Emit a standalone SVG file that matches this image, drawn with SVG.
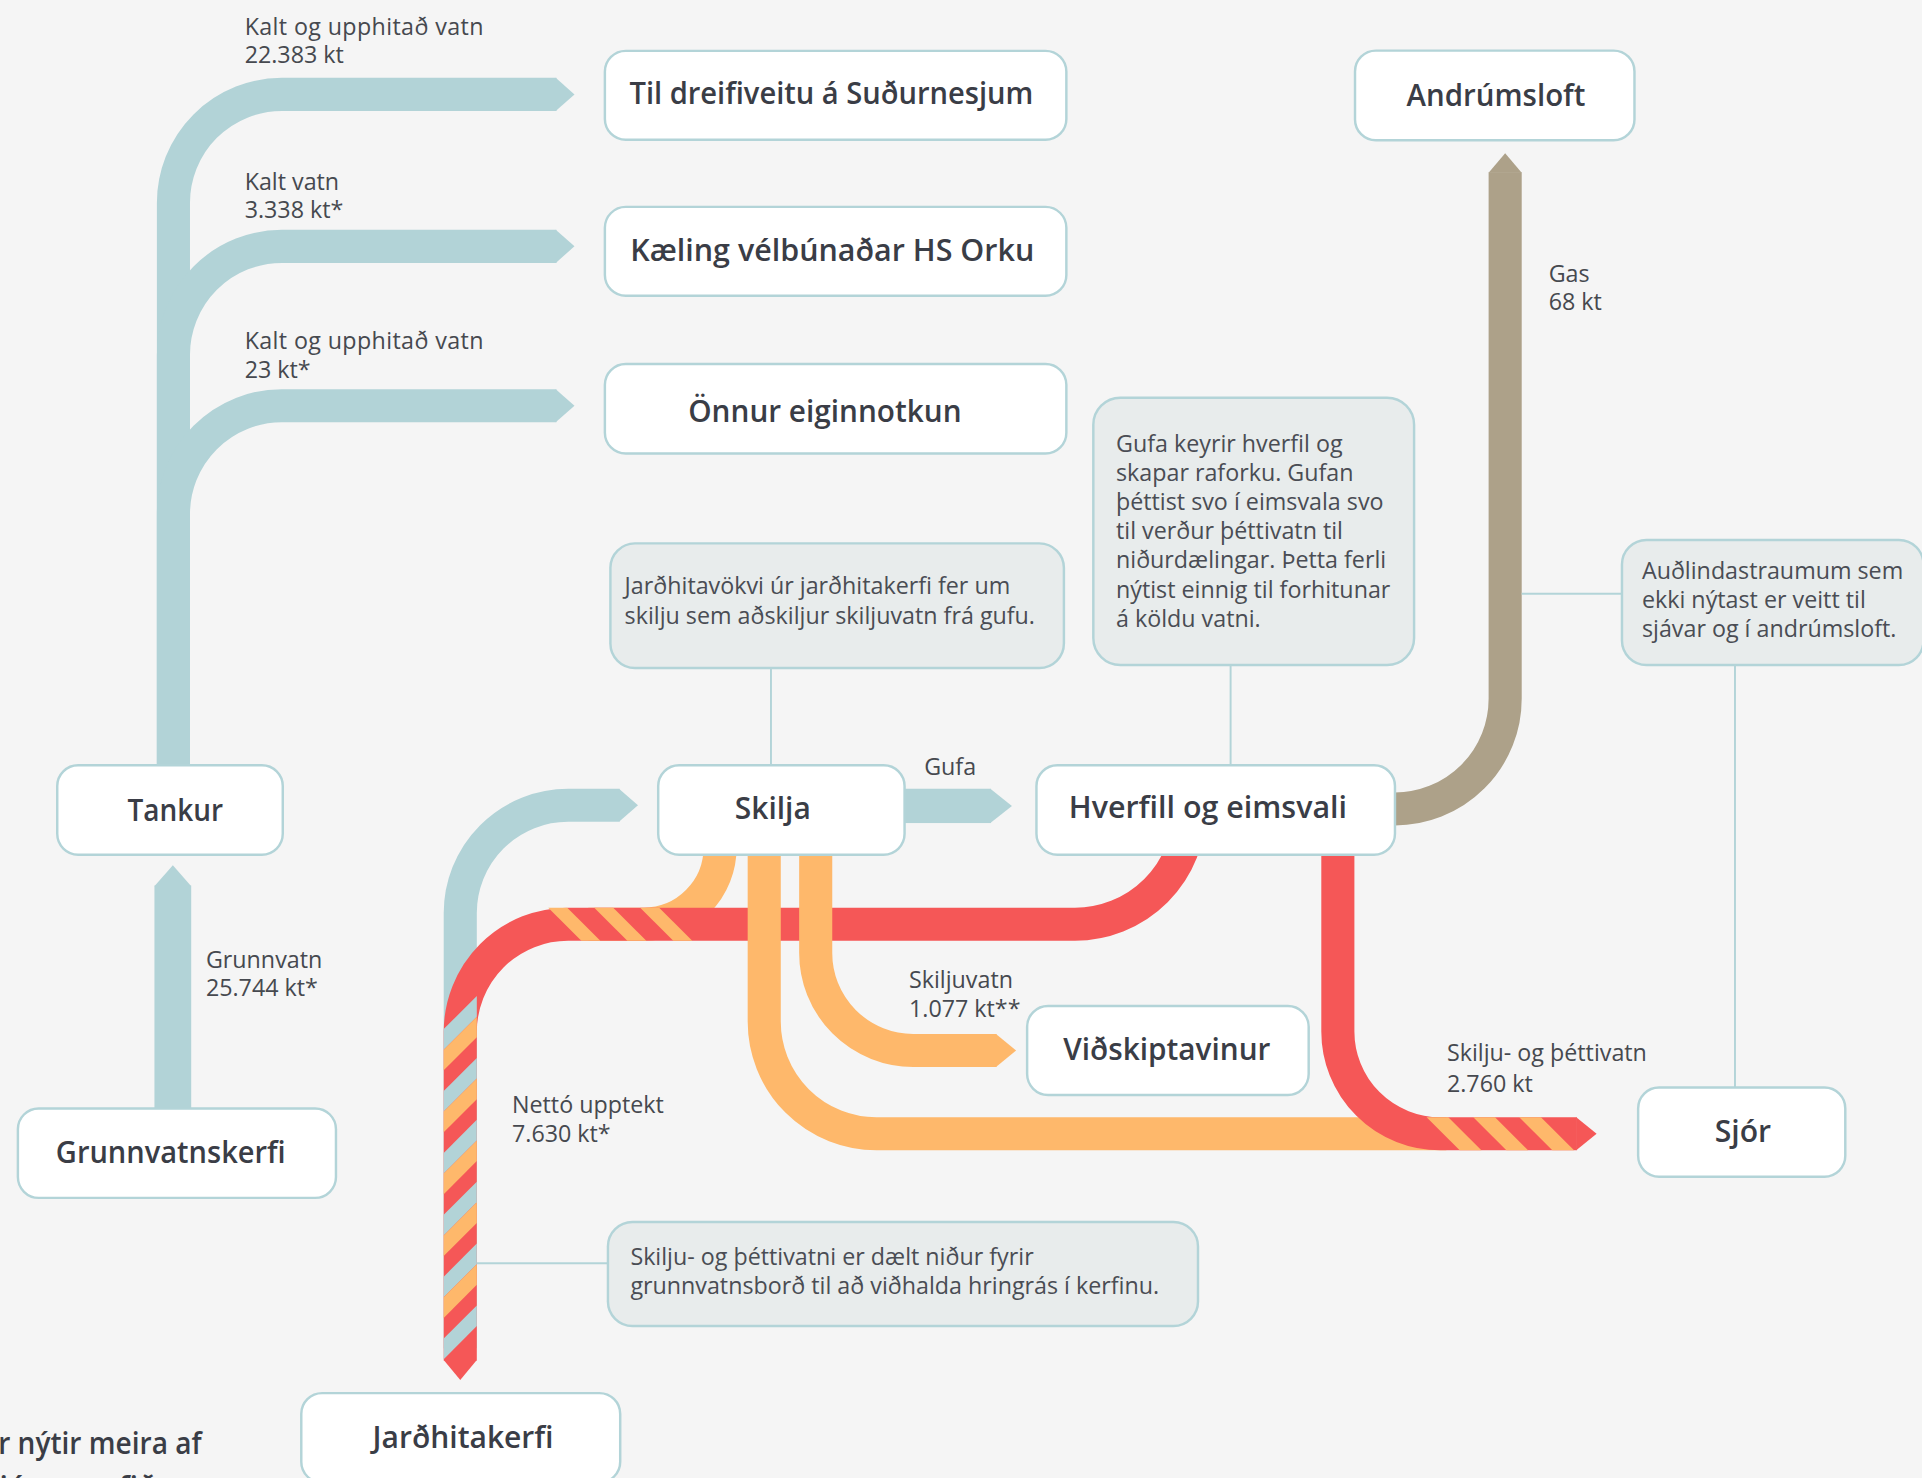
<svg xmlns="http://www.w3.org/2000/svg" width="1922" height="1478" viewBox="0 0 1922 1478">
<defs>
<style>
.node rect{fill:#ffffff;stroke:#b3d4d8;stroke-width:2}
.note rect{fill:#e8ecec;stroke:#b3d4d8;stroke-width:2}
.title{font-family:"Open Sans","Liberation Sans",sans-serif;font-weight:600;font-size:24.5px;fill:#3a3d46;text-anchor:middle}
.lbl{font-family:"Open Sans","Liberation Sans",sans-serif;font-size:19px;fill:#46494f}
.ntxt{font-family:"Open Sans","Liberation Sans",sans-serif;font-size:19px;fill:#4a4d54}
.band{fill:none;stroke-width:27;stroke-linecap:butt}
.blue{stroke:#b2d3d7}
.orange{stroke:#feb86b}
.red{stroke:#f55757}
.tan{stroke:#ada189}
.fblue{fill:#b2d3d7}
.forange{fill:#feb86b}
.fred{fill:#f55757}
.ftan{fill:#ada189}
.conn{stroke:#b3d4d8;stroke-width:1.6;fill:none}
.foot{font-family:"Open Sans","Liberation Sans",sans-serif;font-weight:600;font-size:24.5px;fill:#3a3d46;text-anchor:end}
</style>
</defs>
<rect width="1922" height="1478" fill="#f5f5f5"/>
<g transform="scale(1.2257)">
<g id="connectors">
  <path class="band blue" d="M141.5,640 V165.5 A88.5,88.5 0 0 1 230,77 H454"/>
  <polygon class="fblue" points="453.4,63.5 468.7,77 453.4,90.5"/>
  <path class="band blue" d="M141.5,640 V289.5 A88.5,88.5 0 0 1 230,201 H454"/>
  <polygon class="fblue" points="453.4,187.5 468.7,201 453.4,214.5"/>
  <path class="band blue" d="M141.5,640 V419.5 A88.5,88.5 0 0 1 230,331 H454"/>
  <polygon class="fblue" points="453.4,317.5 468.7,331 453.4,344.5"/>
  <rect class="fblue" x="126" y="722.5" width="30" height="190"/>
  <polygon class="fblue" points="126,723 141,706 156,723"/>
  <path class="band tan" d="M1130,660 H1138 A90,90 0 0 0 1228,570 V140.5"/>
  <polygon class="ftan" points="1214.5,141 1228,125 1241.5,141"/>
  <path class="band blue" d="M375.5,1100 V745 A88,88 0 0 1 463.5,657 H505.5"/>
  <polygon class="fblue" points="505,643.5 520.5,657 505,670.5"/>
  <rect class="fblue" x="735" y="643.5" width="73.5" height="28"/>
  <polygon class="fblue" points="808,643.5 825.6,657.5 808,671.5"/>
  <path class="band orange" d="M587.5,685 V691.5 A62.5,62.5 0 0 1 525,754 H480"/>
  <path class="band red" d="M970.5,650 V660.5 A93.5,93.5 0 0 1 877,754 H463.5 A88,88 0 0 0 375.5,842 V1110"/>
  <polygon class="fred" points="362,1109.5 375.5,1125.8 389,1109.5"/>
  <polygon class="forange" points="447.3,740.5 462.8,740.5 489.8,767.5 474.3,767.5"/>
  <polygon class="forange" points="484.8,740.5 500.3,740.5 527.3,767.5 511.8,767.5"/>
  <polygon class="forange" points="522.3,740.5 537.8,740.5 564.8,767.5 549.3,767.5"/>
  <polygon class="fblue" points="362,839.6 389,812.6 389,829.43 362,856.43"/>
  <polygon class="forange" points="362,856.43 389,829.43 389,846.26 362,873.26"/>
  <polygon class="fblue" points="362,890.1 389,863.1 389,879.93 362,906.93"/>
  <polygon class="forange" points="362,906.93 389,879.93 389,896.76 362,923.76"/>
  <polygon class="fblue" points="362,940.6 389,913.6 389,930.43 362,957.43"/>
  <polygon class="forange" points="362,957.43 389,930.43 389,947.26 362,974.26"/>
  <polygon class="fblue" points="362,991.1 389,964.1 389,980.93 362,1007.93"/>
  <polygon class="forange" points="362,1007.93 389,980.93 389,997.76 362,1024.76"/>
  <polygon class="fblue" points="362,1041.6 389,1014.6 389,1031.43 362,1058.43"/>
  <polygon class="forange" points="362,1058.43 389,1031.43 389,1048.26 362,1075.26"/>
  <polygon class="fblue" points="362,1092.1 389,1065.1 389,1081.93 362,1108.93"/>
  <path class="band orange" d="M623.5,690 V833.5 A91.5,91.5 0 0 0 715,925 H1180"/>
  <path class="band red" d="M1091.5,690 V841.5 A83.5,83.5 0 0 0 1175,925 H1286.5"/>
  <polygon class="fred" points="1286,911.5 1302.6,925 1286,938.5"/>
  <polygon class="forange" points="1163.9,911.5 1181.6,911.5 1208.6,938.5 1190.9,938.5"/>
  <polygon class="forange" points="1202,911.5 1219.7,911.5 1246.7,938.5 1229,938.5"/>
  <polygon class="forange" points="1239.5,911.5 1257.2,911.5 1284.2,938.5 1266.5,938.5"/>
  <path class="band orange" d="M665.5,690 V777.5 A79.5,79.5 0 0 0 745,857 H813"/>
  <polygon class="forange" points="812.6,843.5 829,857 812.6,870.5"/>
  <line class="conn" x1="629" y1="545" x2="629" y2="624"/>
  <line class="conn" x1="1004" y1="542.6" x2="1004" y2="624"/>
  <line class="conn" x1="1241.5" y1="484.4" x2="1323.3" y2="484.4"/>
  <line class="conn" x1="1415.5" y1="542.6" x2="1415.5" y2="887"/>
  <line class="conn" x1="389" y1="1030.6" x2="496" y2="1030.6"/>
</g>
<g id="flow-labels" class="lbl">
  <text x="199.6" y="28.5" textLength="194.8">Kalt og upphitað vatn</text>
  <text x="199.6" y="51.7">22.383 kt</text>
  <text x="199.6" y="155">Kalt vatn</text>
  <text x="199.6" y="178">3.338 kt*</text>
  <text x="199.6" y="285" textLength="194.8">Kalt og upphitað vatn</text>
  <text x="199.6" y="308.6">23 kt*</text>
  <text x="1263.5" y="230">Gas</text>
  <text x="1263.5" y="253">68 kt</text>
  <text x="168" y="790">Grunnvatn</text>
  <text x="168" y="813">25.744 kt*</text>
  <text x="754" y="632">Gufa</text>
  <text x="741.6" y="806">Skiljuvatn</text>
  <text x="741.6" y="829.4">1.077 kt**</text>
  <text x="1180.5" y="866">Skilju- og þéttivatn</text>
  <text x="1180.5" y="890.6">2.760 kt</text>
  <text x="417.7" y="908">Nettó upptekt</text>
  <text x="417.7" y="931.4">7.630 kt*</text>
</g>
<g id="node-dreifiveita" class="node"><rect x="493.5" y="41.5" width="376.5" height="72.5" rx="17"/><text class="title" x="678.3" y="85" textLength="329.5" lengthAdjust="spacingAndGlyphs">Til dreifiveitu á Suðurnesjum</text></g>
<g id="node-kaeling" class="node"><rect x="493.5" y="168.8" width="376.5" height="72.5" rx="17"/><text class="title" x="679" y="212.7" textLength="329.6" lengthAdjust="spacingAndGlyphs">Kæling vélbúnaðar HS Orku</text></g>
<g id="node-eiginnotkun" class="node"><rect x="493.5" y="297" width="376.5" height="73" rx="17"/><text class="title" x="673" y="344" textLength="223" lengthAdjust="spacingAndGlyphs">Önnur eiginnotkun</text></g>
<g id="node-andrumsloft" class="node"><rect x="1105.5" y="41.3" width="228" height="73.2" rx="17"/><text class="title" x="1220.5" y="86.3" textLength="146" lengthAdjust="spacingAndGlyphs">Andrúmsloft</text></g>
<g id="node-tankur" class="node"><rect x="46.7" y="624.3" width="184" height="73" rx="17"/><text class="title" x="143" y="669.5" textLength="78" lengthAdjust="spacingAndGlyphs">Tankur</text></g>
<g id="node-grunnvatnskerfi" class="node"><rect x="14.6" y="904.3" width="259.5" height="73" rx="17"/><text class="title" x="139.3" y="948.5" textLength="187.5" lengthAdjust="spacingAndGlyphs">Grunnvatnskerfi</text></g>
<g id="node-skilja" class="node"><rect x="537" y="624.3" width="201" height="73" rx="17"/><text class="title" x="630.5" y="668.5" textLength="62" lengthAdjust="spacingAndGlyphs">Skilja</text></g>
<g id="node-hverfill" class="node"><rect x="845.6" y="624.3" width="292.5" height="73" rx="17"/><text class="title" x="985.5" y="667.6" textLength="227" lengthAdjust="spacingAndGlyphs">Hverfill og eimsvali</text></g>
<g id="node-vidskiptavinur" class="node"><rect x="838" y="820.7" width="229.7" height="72.6" rx="17"/><text class="title" x="952" y="864.8" textLength="169" lengthAdjust="spacingAndGlyphs">Viðskiptavinur</text></g>
<g id="node-sjor" class="node"><rect x="1336.5" y="887.3" width="169" height="72.7" rx="17"/><text class="title" x="1422" y="931.4" textLength="46" lengthAdjust="spacingAndGlyphs">Sjór</text></g>
<g id="node-jardhitakerfi" class="node"><rect x="245.8" y="1136.6" width="260.2" height="73" rx="17"/><text class="title" x="377.8" y="1181.6" textLength="147.6" lengthAdjust="spacingAndGlyphs">Jarðhitakerfi</text></g>
<g id="note-skilja" class="note"><rect x="498" y="443.3" width="370" height="101.7" rx="20"/>
  <text class="ntxt" x="509.6" y="484.4">Jarðhitavökvi úr jarðhitakerfi fer um</text>
  <text class="ntxt" x="509.6" y="509.4">skilju sem aðskiljur skiljuvatn frá gufu.</text></g>
<g id="note-hverfill" class="note"><rect x="892" y="324.5" width="261.7" height="218.1" rx="22"/>
  <text class="ntxt" x="910.5" y="368.5">Gufa keyrir hverfil og</text>
  <text class="ntxt" x="910.5" y="392.3">skapar raforku. Gufan</text>
  <text class="ntxt" x="910.5" y="416.1">þéttist svo í eimsvala svo</text>
  <text class="ntxt" x="910.5" y="439.9">til verður þéttivatn til</text>
  <text class="ntxt" x="910.5" y="463.7">niðurdælingar. Þetta ferli</text>
  <text class="ntxt" x="910.5" y="487.5">nýtist einnig til forhitunar</text>
  <text class="ntxt" x="910.5" y="511.3">á köldu vatni.</text></g>
<g id="note-audlind" class="note"><rect x="1323.3" y="440.6" width="246" height="102" rx="20"/>
  <text class="ntxt" x="1339.6" y="472.7">Auðlindastraumum sem</text>
  <text class="ntxt" x="1339.6" y="496.4">ekki nýtast er veitt til</text>
  <text class="ntxt" x="1339.6" y="520">sjávar og í andrúmsloft.</text></g>
<g id="note-nidurdaeling" class="note"><rect x="496" y="997" width="481.4" height="84.8" rx="20"/>
  <text class="ntxt" x="514.3" y="1032">Skilju- og þéttivatni er dælt niður fyrir</text>
  <text class="ntxt" x="514.3" y="1055.7">grunnvatnsborð til að viðhalda hringrás í kerfinu.</text></g>
<g id="footnote">
  <text class="foot" x="164.5" y="1186" textLength="166" lengthAdjust="spacingAndGlyphs">r nýtir meira af</text>
  <text class="foot" x="180" y="1222">sjór er gefið upp</text>
</g>
</g>
</svg>
